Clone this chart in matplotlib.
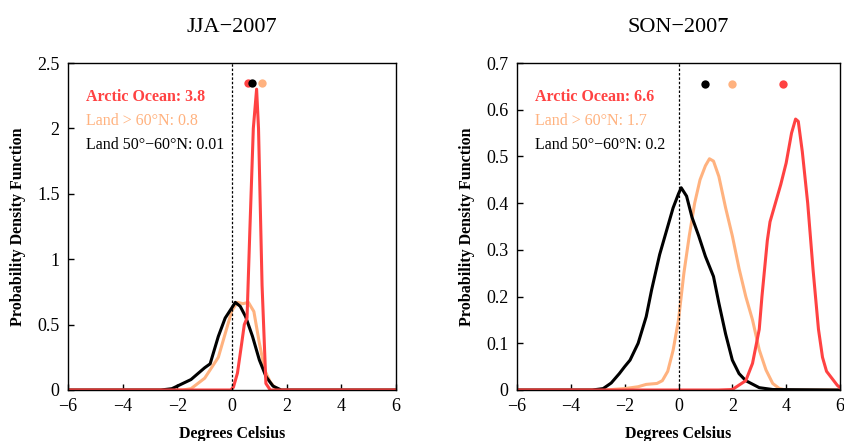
#!/usr/bin/env python3
"""
PDFs of 2007 temperature anomalies, JJA and SON
"""

import matplotlib
matplotlib.use('Agg')
import matplotlib.pyplot as plt

plt.rcParams['font.family'] = ['Liberation Serif', 'DejaVu Serif']

RED = '#ff4242'
ORANGE = '#ffb27f'
BLACK = 'black'

# ---- JJA-2007 ----
jja_red_x = [-6, -0.05, 0.05, 0.2, 0.35, 0.45, 0.55, 0.65, 0.78, 0.9, 0.97, 1.1, 1.24, 1.4, 6]
jja_red_y = [0, 0, 0.02, 0.13, 0.35, 0.5, 0.55, 1.2, 2.0, 2.3, 2.0, 0.8, 0.05, 0, 0]

jja_org_x = [-6, -1.8, -1.5, -1.0, -0.5, -0.25, 0.0, 0.2, 0.4, 0.6, 0.8, 1.0, 1.2, 1.4, 1.6, 1.8, 6]
jja_org_y = [0, 0, 0.01, 0.09, 0.25, 0.43, 0.61, 0.67, 0.66, 0.67, 0.6, 0.36, 0.15, 0.06, 0.01, 0, 0]

jja_blk_x = [-6, -2.6, -2.2, -2.0, -1.5, -1.0, -0.8, -0.5, -0.25, 0.0, 0.12, 0.3, 0.5, 0.75, 1.0, 1.25, 1.5, 1.8, 6]
jja_blk_y = [0, 0, 0.01, 0.03, 0.08, 0.17, 0.2, 0.41, 0.55, 0.63, 0.67, 0.64, 0.56, 0.41, 0.23, 0.1, 0.03, 0, 0]

jja_means = [0.6, 0.72, 1.11]          # red, black, orange dots
jja_labels = ['Arctic Ocean: 3.8', 'Land > 60°N: 0.8', 'Land 50°−60°N: 0.01']

# ---- SON-2007 ----
son_red_x = [-6, 1.5, 2.0, 2.5, 2.75, 3.0, 3.1, 3.2, 3.3, 3.4, 3.6, 3.8, 4.0, 4.2, 4.35, 4.45, 4.6,
             4.8, 5.0, 5.2, 5.35, 5.5, 5.7, 5.9, 6.0]
son_red_y = [0, 0, 0.001, 0.02, 0.057, 0.13, 0.2, 0.26, 0.32, 0.36, 0.4, 0.44, 0.486, 0.55, 0.58, 0.575, 0.51,
             0.4, 0.257, 0.13, 0.07, 0.04, 0.025, 0.01, 0.005]

son_org_x = [-6, -2.8, -2.5, -2.0, -1.5, -1.2, -0.8, -0.6, -0.4, -0.2, 0.0, 0.2, 0.4, 0.6, 0.8,
             1.0, 1.15, 1.3, 1.5, 1.75, 2.0, 2.25, 2.5, 2.75, 3.0, 3.25, 3.5, 3.75, 4.0, 6]
son_org_y = [0, 0, 0.001, 0.003, 0.007, 0.012, 0.014, 0.02, 0.04, 0.085, 0.15, 0.25, 0.33, 0.4, 0.45,
             0.48, 0.495, 0.49, 0.457, 0.39, 0.33, 0.26, 0.2, 0.15, 0.086, 0.043, 0.014, 0.003, 0, 0]

son_blk_x = [-6, -3.2, -2.8, -2.5, -2.2, -2.0, -1.8, -1.5, -1.2, -1.0, -0.7, -0.5, -0.2, 0.0, 0.1,
             0.3, 0.5, 0.75, 1.0, 1.3, 1.5, 1.75, 2.0, 2.25, 2.5, 3.0, 3.5, 6]
son_blk_y = [0, 0, 0.003, 0.015, 0.035, 0.05, 0.064, 0.1, 0.157, 0.214, 0.29, 0.33, 0.39, 0.42, 0.433,
             0.415, 0.37, 0.33, 0.286, 0.243, 0.186, 0.12, 0.064, 0.035, 0.02, 0.005, 0.001, 0]

son_means = [3.88, 0.98, 1.98]          # red, black, orange dots
son_labels = ['Arctic Ocean: 6.6', 'Land > 60°N: 1.7', 'Land 50°−60°N: 0.2']

fig = plt.figure(figsize=(8.44, 4.41), dpi=100)


def draw_panel(ax, title, red, org, blk, means, labels, ymax, yticks, yticklabels, dot_y):
    ax.plot(org[0], org[1], color=ORANGE, lw=2.2)
    ax.plot(blk[0], blk[1], color=BLACK, lw=2.2)
    ax.plot(red[0], red[1], color=RED, lw=2.2)
    ax.axvline(0, color='black', ls='--', lw=0.9, dashes=(2, 1.5))

    for xm, c in zip(means, [RED, BLACK, ORANGE]):
        ax.plot(xm, dot_y, 'o', color=c, ms=6, mec='none', clip_on=False)

    ax.text(0.055, 0.896, labels[0], transform=ax.transAxes, color=RED,
            fontsize=11.5, fontweight='bold', va='center')
    ax.text(0.055, 0.823, labels[1], transform=ax.transAxes, color=ORANGE,
            fontsize=11.5, va='center')
    ax.text(0.055, 0.749, labels[2], transform=ax.transAxes, color=BLACK,
            fontsize=11.5, va='center')

    ax.set_xlim(-6, 6)
    ax.set_ylim(0, ymax)
    ax.set_xticks([-6, -4, -2, 0, 2, 4, 6])
    ax.set_xticklabels(['−6', '−4', '−2', '0', '2', '4', '6'])
    ax.set_yticks(yticks)
    ax.set_yticklabels(yticklabels)
    ax.tick_params(direction='in', length=4, width=1, labelsize=13)
    ax.tick_params(axis='x', pad=6)
    ax.tick_params(axis='y', pad=6)
    for s in ax.spines.values():
        s.set_linewidth(1)
    ax.set_xlabel('Degrees Celsius', fontsize=11.5, fontweight='bold', labelpad=8)
    ax.set_ylabel('Probability Density Function', fontsize=11.5, fontweight='bold', labelpad=8)
    ax.set_title(title, fontsize=16, pad=22)


ax1 = fig.add_axes([68 / 844, 51 / 441, 328 / 844, 327 / 441])
draw_panel(ax1, 'JJA−2007',
           (jja_red_x, jja_red_y), (jja_org_x, jja_org_y), (jja_blk_x, jja_blk_y),
           jja_means, jja_labels, 2.5,
           [0, 0.5, 1, 1.5, 2, 2.5], ['0', '0.5', '1', '1.5', '2', '2.5'], 2.35)

ax2 = fig.add_axes([517 / 844, 51 / 441, 323 / 844, 327 / 441])
draw_panel(ax2, 'SON−2007',
           (son_red_x, son_red_y), (son_org_x, son_org_y), (son_blk_x, son_blk_y),
           son_means, son_labels, 0.7,
           [0, 0.1, 0.2, 0.3, 0.4, 0.5, 0.6, 0.7],
           ['0', '0.1', '0.2', '0.3', '0.4', '0.5', '0.6', '0.7'], 0.656)

fig.savefig('out.png', dpi=100)
